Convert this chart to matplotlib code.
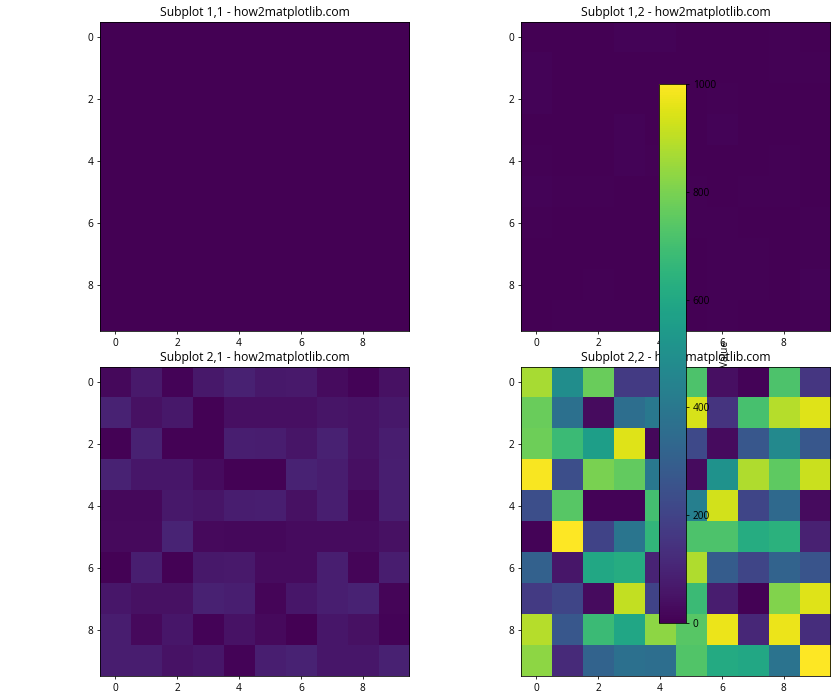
import matplotlib
matplotlib.use("Agg")
import matplotlib.pyplot as plt

plt.rcParams['font.family'] = ['Open Sans', 'DejaVu Sans']
plt.rcParams['font.size'] = 10.4
plt.rcParams['axes.titlesize'] = 12.5

# values, scale 0-1000
data_11 = [
    [0.5, 0.6, 0.4, 0.7, 0.5, 0.3, 0.6, 0.5, 0.8, 0.4],
    [0.6, 0.2, 0.7, 0.5, 0.4, 0.6, 0.3, 0.8, 0.5, 0.6],
    [0.3, 0.7, 0.5, 0.6, 0.8, 0.4, 0.5, 0.2, 0.6, 0.7],
    [0.8, 0.4, 0.6, 0.3, 0.5, 0.7, 0.6, 0.4, 0.5, 0.2],
    [0.4, 0.5, 0.8, 0.6, 0.2, 0.5, 0.7, 0.6, 0.3, 0.5],
    [0.7, 0.3, 0.5, 0.4, 0.6, 0.8, 0.2, 0.5, 0.7, 0.4],
    [0.2, 0.6, 0.7, 0.5, 0.3, 0.4, 0.8, 0.6, 0.4, 0.5],
    [0.5, 0.8, 0.3, 0.6, 0.7, 0.2, 0.4, 0.5, 0.6, 0.3],
    [0.6, 0.4, 0.5, 0.2, 0.8, 0.6, 0.3, 0.7, 0.5, 0.6],
    [0.4, 0.7, 0.6, 0.8, 0.3, 0.5, 0.6, 0.4, 0.2, 0.7],
]
data_12 = [
    [2, 2, 3, 8, 8, 3, 2, 3, 7, 3],
    [8, 2, 2, 3, 3, 2, 3, 3, 7, 4],
    [8, 3, 3, 2, 2, 3, 5, 3, 3, 3],
    [3, 3, 3, 8, 3, 3, 8, 3, 2, 3],
    [5, 3, 3, 8, 5, 3, 3, 3, 5, 3],
    [8, 7, 5, 2, 2, 5, 3, 5, 5, 2],
    [7, 2, 2, 3, 2, 5, 5, 3, 3, 7],
    [2, 2, 2, 3, 3, 3, 7, 7, 3, 7],
    [2, 2, 7, 3, 3, 2, 5, 5, 2, 8],
    [3, 7, 7, 5, 5, 3, 7, 3, 3, 4],
]
data_21 = [
    [20, 70, 10, 65, 90, 65, 70, 30, 10, 45],
    [95, 45, 65, 5, 40, 40, 40, 55, 50, 65],
    [5, 90, 5, 5, 85, 80, 55, 90, 50, 80],
    [95, 60, 60, 30, 5, 5, 95, 80, 40, 85],
    [20, 20, 65, 55, 80, 85, 45, 85, 20, 85],
    [25, 25, 100, 25, 20, 20, 30, 30, 30, 45],
    [5, 85, 5, 65, 70, 30, 30, 85, 15, 80],
    [60, 45, 45, 90, 85, 15, 60, 85, 95, 15],
    [80, 25, 60, 10, 50, 25, 3, 60, 45, 10],
    [80, 80, 50, 60, 10, 85, 95, 60, 60, 90],
]
data_22 = [
    [870, 490, 770, 170, 170, 720, 40, 10, 720, 160],
    [770, 370, 30, 360, 400, 940, 150, 710, 890, 950],
    [780, 680, 560, 950, 20, 220, 30, 270, 470, 270],
    [990, 240, 800, 760, 400, 30, 510, 880, 750, 920],
    [240, 740, 10, 10, 700, 430, 930, 210, 340, 30],
    [10, 1000, 200, 390, 660, 720, 720, 620, 640, 90],
    [310, 60, 600, 620, 100, 880, 290, 210, 320, 260],
    [170, 210, 30, 910, 200, 680, 80, 5, 810, 950],
    [890, 270, 680, 590, 830, 740, 970, 110, 970, 130],
    [830, 120, 320, 370, 360, 730, 610, 600, 380, 1000],
]
grids = [[data_11, data_12], [data_21, data_22]]

fig, axs = plt.subplots(2, 2, figsize=(12, 10), dpi=70)
fig.subplots_adjust(left=100 / 840, right=830 / 840, top=1 - 22 / 700,
                    bottom=1 - 676 / 700, wspace=0.362, hspace=0.1165)

for i in range(2):
    for j in range(2):
        im = axs[i, j].imshow(grids[i][j], cmap='viridis', vmin=0, vmax=1000)
        axs[i, j].set_title(f'Subplot {i + 1},{j + 1} - how2matplotlib.com')

# colorbar sits on top of the right hand column
cax = fig.add_axes([659 / 840, 1 - 623 / 700, 27 / 840, 539 / 700])
cbar = fig.colorbar(im, cax=cax, label='Value')

fig.savefig('out.png', dpi=70)
